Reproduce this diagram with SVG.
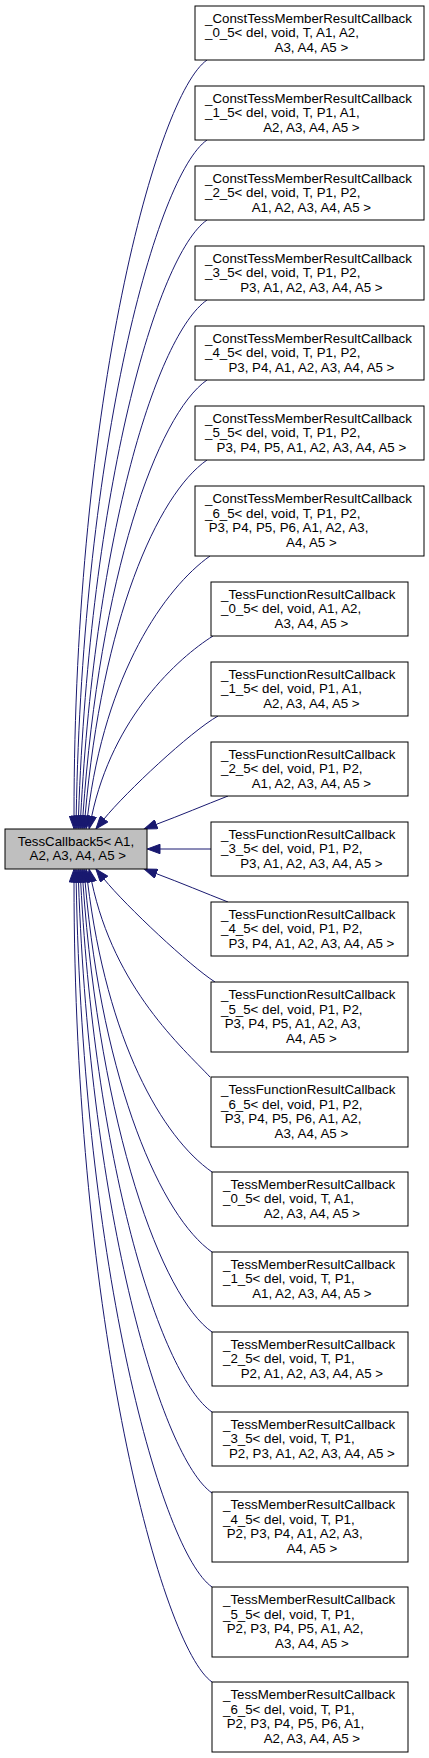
<svg xmlns="http://www.w3.org/2000/svg" width="429" height="1758" viewBox="0 0 429 1758">
<style>
text{font-family:"Liberation Sans",Arial,Helvetica,sans-serif;font-size:13.3px;fill:#000}
.c{text-anchor:middle}
.node rect{fill:#fff;stroke:#000;stroke-width:1}
.base rect{fill:#bfbfbf;stroke:#000;stroke-width:1}
#edges path{fill:none;stroke:#191970;stroke-width:1;marker-end:url(#arr)}
</style>
<defs>
<marker id="arr" viewBox="0 0 14 10" refX="0.5" refY="5" markerWidth="14" markerHeight="10" markerUnits="userSpaceOnUse" orient="auto"><path d="M0.5,0.3 L13.3,5 L0.5,9.7 Z" fill="#191970" stroke="#191970" stroke-width="1"/></marker>
</defs>
<rect width="429" height="1758" fill="#fff"/>
<g id="edges">
<path d="M207,60 C157,95 74,400 74,816"/>
<path d="M207,140 C157,175 82.7,444 76.2,816"/>
<path d="M207,220 C157,255 89.9,488 78.5,816"/>
<path d="M207,300 C157,335 95.6,532 80.7,816"/>
<path d="M207,380 C157,415 99.7,576 82.9,816"/>
<path d="M207,460 C157,495 102.2,620 85.1,816"/>
<path d="M210,556 C165,588 105.2,673 87.6,816"/>
<path d="M213,636 C178,658 112.7,717 91.7,816.3"/>
<path d="M218,716 C190,732 126,792 104,819"/>
<path d="M228,796 C205,805 180,815.5 156.2,824.4"/>
<path d="M211,849 L160,849"/>
<path d="M228,902 C205,893 180,882.5 156.2,873.6"/>
<path d="M215,982 C190,966 126,906 104,879"/>
<path d="M210,1077 C183,1048 114.5,989 91.7,881.7"/>
<path d="M212,1172 C162,1137 107.2,1041.5 87.6,881.9"/>
<path d="M212,1252 C162,1217 102.9,1085.5 85.1,881.9"/>
<path d="M212,1332 C162,1297 100.2,1129.5 82.9,882"/>
<path d="M212,1412 C162,1377 96,1173.5 80.7,882"/>
<path d="M212,1493 C162,1458 90.2,1218 78.5,882"/>
<path d="M212,1587 C162,1552 83,1269.8 76.2,882"/>
<path d="M212,1682 C162,1647 74,1322 74,882"/>
</g>
<g id="base" class="base"><rect x="5" y="829" width="142" height="40"/><text class="c" x="76" y="845.8">TessCallback5&lt; A1,</text><text class="c" x="77.8" y="860.3">A2, A3, A4, A5 &gt;</text></g>
<g id="c0" class="node"><rect x="195" y="6" width="229" height="54"/><text x="205" y="22.6">_ConstTessMemberResultCallback</text><text x="205" y="37.1">_0_5&lt; del, void, T, A1, A2,</text><text class="c" x="311.4" y="51.6">A3, A4, A5 &gt;</text></g>
<g id="c1" class="node"><rect x="195" y="86" width="229" height="54"/><text x="205" y="102.6">_ConstTessMemberResultCallback</text><text x="205" y="117.1">_1_5&lt; del, void, T, P1, A1,</text><text class="c" x="311.4" y="131.6">A2, A3, A4, A5 &gt;</text></g>
<g id="c2" class="node"><rect x="195" y="166" width="229" height="54"/><text x="205" y="182.6">_ConstTessMemberResultCallback</text><text x="205" y="197.1">_2_5&lt; del, void, T, P1, P2,</text><text class="c" x="311.4" y="211.6">A1, A2, A3, A4, A5 &gt;</text></g>
<g id="c3" class="node"><rect x="195" y="246" width="229" height="54"/><text x="205" y="262.6">_ConstTessMemberResultCallback</text><text x="205" y="277.1">_3_5&lt; del, void, T, P1, P2,</text><text class="c" x="311.4" y="291.6">P3, A1, A2, A3, A4, A5 &gt;</text></g>
<g id="c4" class="node"><rect x="195" y="326" width="229" height="54"/><text x="205" y="342.6">_ConstTessMemberResultCallback</text><text x="205" y="357.1">_4_5&lt; del, void, T, P1, P2,</text><text class="c" x="311.4" y="371.6">P3, P4, A1, A2, A3, A4, A5 &gt;</text></g>
<g id="c5" class="node"><rect x="195" y="406" width="229" height="54"/><text x="205" y="422.6">_ConstTessMemberResultCallback</text><text x="205" y="437.1">_5_5&lt; del, void, T, P1, P2,</text><text class="c" x="311.4" y="451.6">P3, P4, P5, A1, A2, A3, A4, A5 &gt;</text></g>
<g id="c6" class="node"><rect x="195" y="486" width="229" height="70"/><text x="205" y="503.3">_ConstTessMemberResultCallback</text><text x="205" y="517.8">_6_5&lt; del, void, T, P1, P2,</text><text x="208.7" y="532.3">P3, P4, P5, P6, A1, A2, A3,</text><text class="c" x="311.4" y="546.8">A4, A5 &gt;</text></g>
<g id="f0" class="node"><rect x="211" y="582" width="197" height="54"/><text x="221" y="598.6">_TessFunctionResultCallback</text><text x="221" y="613.1">_0_5&lt; del, void, A1, A2,</text><text class="c" x="311.4" y="627.6">A3, A4, A5 &gt;</text></g>
<g id="f1" class="node"><rect x="211" y="662" width="197" height="54"/><text x="221" y="678.6">_TessFunctionResultCallback</text><text x="221" y="693.1">_1_5&lt; del, void, P1, A1,</text><text class="c" x="311.4" y="707.6">A2, A3, A4, A5 &gt;</text></g>
<g id="f2" class="node"><rect x="211" y="742" width="197" height="54"/><text x="221" y="758.6">_TessFunctionResultCallback</text><text x="221" y="773.1">_2_5&lt; del, void, P1, P2,</text><text class="c" x="311.4" y="787.6">A1, A2, A3, A4, A5 &gt;</text></g>
<g id="f3" class="node"><rect x="211" y="822" width="197" height="54"/><text x="221" y="838.6">_TessFunctionResultCallback</text><text x="221" y="853.1">_3_5&lt; del, void, P1, P2,</text><text class="c" x="311.4" y="867.6">P3, A1, A2, A3, A4, A5 &gt;</text></g>
<g id="f4" class="node"><rect x="211" y="902" width="197" height="54"/><text x="221" y="918.6">_TessFunctionResultCallback</text><text x="221" y="933.1">_4_5&lt; del, void, P1, P2,</text><text class="c" x="311.4" y="947.6">P3, P4, A1, A2, A3, A4, A5 &gt;</text></g>
<g id="f5" class="node"><rect x="211" y="982" width="197" height="70"/><text x="221" y="999.3">_TessFunctionResultCallback</text><text x="221" y="1013.8">_5_5&lt; del, void, P1, P2,</text><text x="224.7" y="1028.3">P3, P4, P5, A1, A2, A3,</text><text class="c" x="311.4" y="1042.8">A4, A5 &gt;</text></g>
<g id="f6" class="node"><rect x="211" y="1077" width="197" height="70"/><text x="221" y="1094.3">_TessFunctionResultCallback</text><text x="221" y="1108.8">_6_5&lt; del, void, P1, P2,</text><text x="224.7" y="1123.3">P3, P4, P5, P6, A1, A2,</text><text class="c" x="311.4" y="1137.8">A3, A4, A5 &gt;</text></g>
<g id="m0" class="node"><rect x="212" y="1172" width="196" height="54"/><text x="223" y="1188.6">_TessMemberResultCallback</text><text x="223" y="1203.1">_0_5&lt; del, void, T, A1,</text><text class="c" x="311.9" y="1217.6">A2, A3, A4, A5 &gt;</text></g>
<g id="m1" class="node"><rect x="212" y="1252" width="196" height="54"/><text x="223" y="1268.6">_TessMemberResultCallback</text><text x="223" y="1283.1">_1_5&lt; del, void, T, P1,</text><text class="c" x="311.9" y="1297.6">A1, A2, A3, A4, A5 &gt;</text></g>
<g id="m2" class="node"><rect x="212" y="1332" width="196" height="54"/><text x="223" y="1348.6">_TessMemberResultCallback</text><text x="223" y="1363.1">_2_5&lt; del, void, T, P1,</text><text class="c" x="311.9" y="1377.6">P2, A1, A2, A3, A4, A5 &gt;</text></g>
<g id="m3" class="node"><rect x="212" y="1412" width="196" height="54"/><text x="223" y="1428.6">_TessMemberResultCallback</text><text x="223" y="1443.1">_3_5&lt; del, void, T, P1,</text><text class="c" x="311.9" y="1457.6">P2, P3, A1, A2, A3, A4, A5 &gt;</text></g>
<g id="m4" class="node"><rect x="212" y="1492" width="196" height="70"/><text x="223" y="1509.3">_TessMemberResultCallback</text><text x="223" y="1523.8">_4_5&lt; del, void, T, P1,</text><text x="226.7" y="1538.3">P2, P3, P4, A1, A2, A3,</text><text class="c" x="311.9" y="1552.8">A4, A5 &gt;</text></g>
<g id="m5" class="node"><rect x="212" y="1587" width="196" height="70"/><text x="223" y="1604.3">_TessMemberResultCallback</text><text x="223" y="1618.8">_5_5&lt; del, void, T, P1,</text><text x="226.7" y="1633.3">P2, P3, P4, P5, A1, A2,</text><text class="c" x="311.9" y="1647.8">A3, A4, A5 &gt;</text></g>
<g id="m6" class="node"><rect x="212" y="1682" width="196" height="70"/><text x="223" y="1699.3">_TessMemberResultCallback</text><text x="223" y="1713.8">_6_5&lt; del, void, T, P1,</text><text x="226.7" y="1728.3">P2, P3, P4, P5, P6, A1,</text><text class="c" x="311.9" y="1742.8">A2, A3, A4, A5 &gt;</text></g>
</svg>
